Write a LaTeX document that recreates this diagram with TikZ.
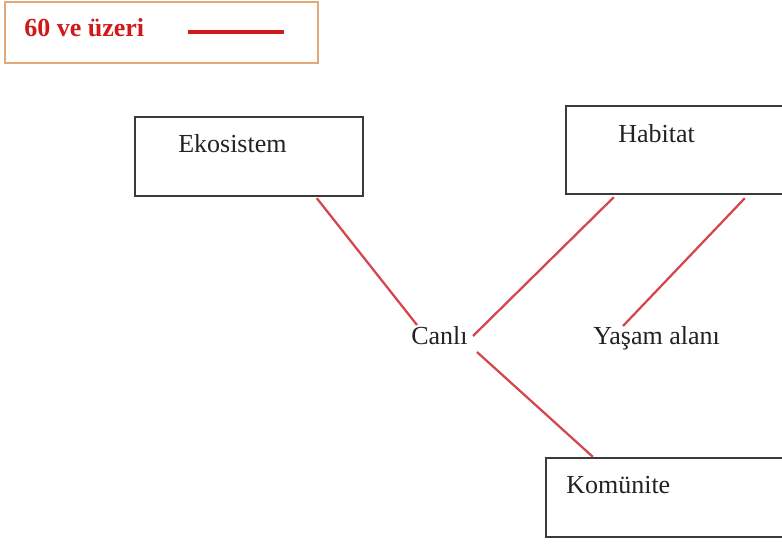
\documentclass[tikz,border=0pt]{standalone}
\usepackage{fontspec}
\setmainfont{Liberation Serif}
\usetikzlibrary{calc}
\definecolor{inkgray}{HTML}{222222}
\definecolor{boxline}{HTML}{3A3A3A}
\definecolor{linkred}{HTML}{D5464E}
\definecolor{legendred}{HTML}{D01A1A}
\definecolor{legendframe}{HTML}{E2A877}
\tikzset{
  box/.style={draw=boxline, line width=1.8pt, fill=white, inner sep=0pt},
  txt/.style={inner sep=0pt, text=inkgray, font=\fontsize{19.5}{22}\selectfont},
  link/.style={draw=linkred, line width=1.7pt},
}
\begin{document}
\begin{tikzpicture}[x=0.75pt, y=-0.75pt]
  \useasboundingbox (0,0) rectangle (782,543);
  \clip (0,0) rectangle (782,543);
  \fill[white] (0,0) rectangle (782,543);

  % legend
  \node[draw=legendframe, line width=2pt, fill=white, inner sep=0pt,
        minimum width=234.75pt, minimum height=45.75pt] (legend) at (161.5,32.5) {};
  \node[inner sep=0pt, anchor=base west, text=legendred,
        font=\fontsize{19.5}{22}\selectfont\bfseries] (legtext) at (24,36) {60 ve üzeri};
  \coordinate (legA) at (188,32);
  \coordinate (legB) at (284,32);
  \draw[draw=legendred, line width=3pt] (legA) -- (legB);

  % boxes
  \node[box, minimum width=171pt, minimum height=59.25pt] (eko) at (249,156.5) {};
  \node[box, minimum width=175.5pt, minimum height=66pt] (hab) at (683,150) {};
  \node[box, minimum width=190.5pt, minimum height=59.25pt] (kom) at (673,497.5) {};

  % labels
  \node[txt, anchor=base west] (ekot) at (178,152) {Ekosistem};
  \node[txt, anchor=base west] (habt) at (618,142) {Habitat};
  \node[txt, anchor=base west] (komt) at (566,493) {Komünite};
  \node[txt, anchor=base west] (canli) at (411,344) {Canlı};
  \node[txt, anchor=base west] (yasam) at (593,344) {Yaşam alanı};

  % connectors
  \draw[link] ($(eko.south west)+(183,1)$) -- ($(canli.base west)+(6,-19)$);
  \draw[link] ($(hab.south west)+(49,2)$) -- ($(canli.base west)+(62,-8)$);
  \draw[link] ($(hab.south west)+(180,3)$) -- ($(yasam.base west)+(30,-18)$);
  \draw[link] ($(canli.base west)+(66,8)$) -- ($(kom.north west)+(48,0)$);
\end{tikzpicture}
\end{document}
